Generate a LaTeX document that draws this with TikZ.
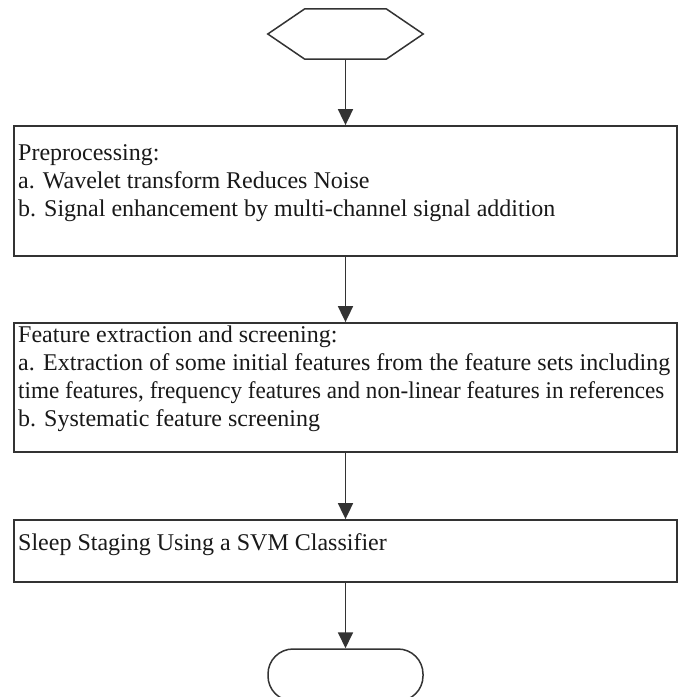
\documentclass[tikz,border=0pt]{standalone}
\usepackage{fontspec}
\setmainfont{Liberation Serif}
\usetikzlibrary{arrows.meta,calc}
\begin{document}
\begin{tikzpicture}[x=1pt,y=-1pt,
  line/.style={draw=black!80, line width=1.8pt},
  procbox/.style={line, rectangle, minimum width=663pt, inner sep=0pt},
  txt/.style={anchor=base west, inner sep=0pt, font=\fontsize{24pt}{28pt}\selectfont, text=black!90},
  arr/.style={line, -{Triangle[width=15pt,length=16pt]}},
  termbox/.style={draw=black!80, line width=1.5pt, rectangle, rounded corners=25pt, minimum width=155pt, minimum height=52pt, inner sep=0pt}
]
\useasboundingbox (0,0) rectangle (683,697);
\fill[white] (0,0) rectangle (683,697);
% start hexagon
\node[minimum width=155pt, minimum height=50pt, inner sep=0pt] (start) at (345.5,34) {};
\draw[line, line width=1.5pt, line join=miter] (start.west) -- ($(start.north west)+(37,0)$) -- ($(start.north east)+(-37,0)$) -- (start.east) -- ($(start.south east)+(-37,0)$) -- ($(start.south west)+(37,0)$) -- cycle;
% boxes
\node[procbox, minimum height=130pt] (b1) at (345.5,191) {};
\node[procbox, minimum height=129pt] (b2) at (345.5,387.5) {};
\node[procbox, minimum height=62pt] (b3) at (345.5,551) {};
\node[termbox] (stop) at (345.5,675) {};
% texts
\node[txt] (t11) at (18,160) {Preprocessing:};
\node[txt] (t12) at (18,188) {a. Wavelet transform Reduces Noise};
\node[txt] (t13) at (18,216) {b. Signal enhancement by multi-channel signal addition};
\node[txt] (t21) at (18,342) {Feature extraction and screening:};
\node[txt] (t22) at (18,370) {\makebox[652pt][s]{a. Extraction of some initial features from the feature sets including}};
\node[txt] (t23) at (18,398) {\resizebox{646pt}{\height}{time features, frequency features and non-linear features in references}};
\node[txt] (t24) at (18,426) {b. Systematic feature screening};
\node[txt] (t31) at (18,550) {Sleep Staging Using a SVM Classifier};
% arrows
\draw[arr] (start.south) -- (b1.north);
\draw[arr] (b1.south) -- (b2.north);
\draw[arr] (b2.south) -- (b3.north);
\draw[arr] (b3.south) -- (stop.north);
\end{tikzpicture}
\end{document}
